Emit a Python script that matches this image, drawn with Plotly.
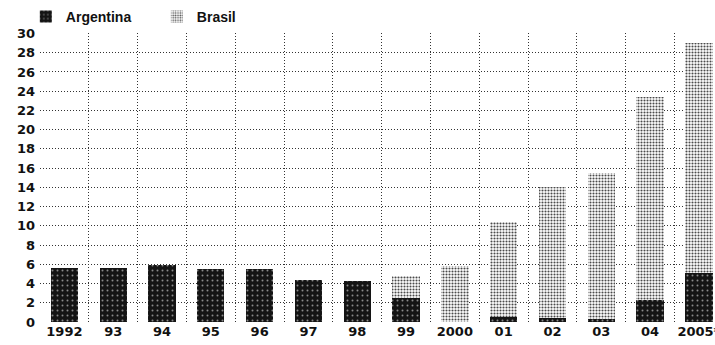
import plotly.graph_objects as go

# Annual values by country, 1992-2005
years = ["1992", "93", "94", "95", "96", "97", "98", "99", "2000", "01", "02", "03", "04", "2005*"]
argentina = [5.6, 5.6, 5.9, 5.5, 5.5, 4.4, 4.3, 2.5, 0.0, 0.5, 0.4, 0.3, 2.3, 5.1]
brasil_total = [5.6, 5.6, 5.9, 5.5, 5.5, 4.4, 4.3, 4.8, 5.8, 10.4, 14.0, 15.5, 23.4, 29.0]
brasil = [round(t - a, 2) for t, a in zip(brasil_total, argentina)]
y_ticks = list(range(0, 31, 2))

positions = list(range(len(years)))
font_main = "DejaVu Sans"
grid_dash = "1px,2px"

fig = go.Figure()
fig.add_trace(go.Bar(
    x=positions, y=argentina, name="Argentina", width=0.56,
    marker=dict(
        color="#141414",
        line=dict(width=0),
        pattern=dict(shape=".", fgcolor="#8a8a8a", bgcolor="#141414",
                     size=5, solidity=0.12, fillmode="replace"),
    ),
))
fig.add_trace(go.Bar(
    x=positions, y=brasil, name="Brasil", width=0.56,
    marker=dict(
        color="#ffffff",
        line=dict(width=0),
        pattern=dict(shape=".", fgcolor="#4a4a4a", bgcolor="#ffffff",
                     size=3, solidity=0.4, fillmode="replace"),
    ),
))

fig.update_layout(
    barmode="stack",
    width=715, height=345,
    margin=dict(l=40, r=0, t=33, b=23),
    paper_bgcolor="white", plot_bgcolor="white",
    font=dict(family=font_main, size=12, color="#111"),
    showlegend=True,
    legend=dict(
        orientation="h", x=-0.021, xanchor="left", y=1.0, yanchor="bottom",
        font=dict(family="Liberation Sans", size=14, weight="bold", color="#111"),
        itemwidth=30, entrywidth=86, entrywidthmode="pixels",
        tracegroupgap=0, traceorder="normal",
        bgcolor="rgba(0,0,0,0)",
    ),
    xaxis=dict(
        range=[-0.5, 13.33],
        tickmode="array", tickvals=positions, ticktext=years,
        showgrid=False, zeroline=False, showline=False, ticks="",
        ticklabeloverflow="allow", automargin=False,
        tickfont=dict(family=font_main, size=13, weight="bold", color="#111"),
        minor=dict(tickmode="array", tickvals=[p - 0.5 for p in positions] + [13.5],
                   showgrid=True, griddash=grid_dash, gridcolor="#333", gridwidth=1, ticks=""),
        fixedrange=True,
    ),
    yaxis=dict(
        range=[0, 30.05],
        tickmode="array", tickvals=y_ticks,
        showgrid=True, griddash=grid_dash, gridcolor="#333", gridwidth=1,
        zeroline=False, showline=False, ticks="",
        automargin=False,
        tickfont=dict(family=font_main, size=13, weight="bold", color="#111"),
        ticklabelstandoff=4,
        fixedrange=True,
    ),
)

fig.write_html("out.html")
